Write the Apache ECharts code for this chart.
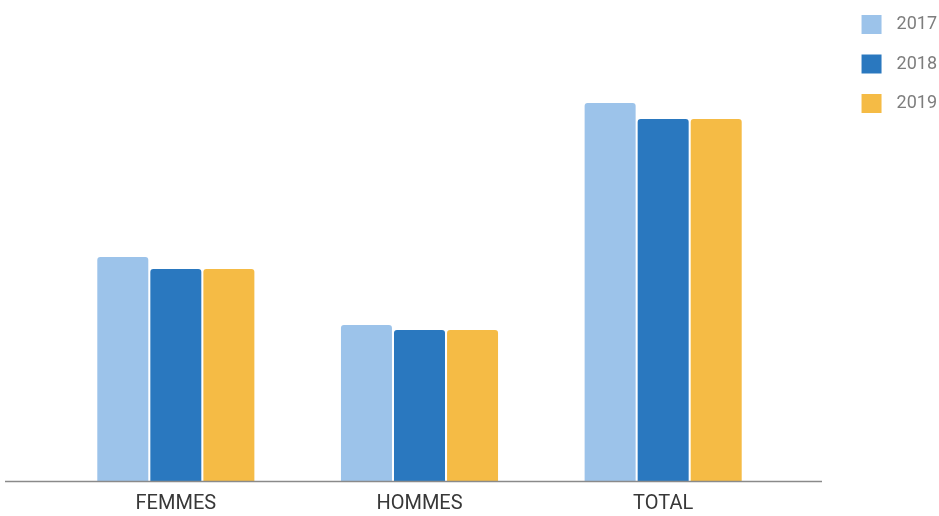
<!DOCTYPE html>
<html>
<head>
<meta charset="utf-8">
<script src="https://cdn.jsdelivr.net/npm/echarts@6/dist/echarts.min.js"></script>
<style>
  html, body { margin: 0; padding: 0; background: #ffffff; }
  #chart { width: 939px; height: 516px; }
</style>
</head>
<body>
<div id="chart"></div>
<script>
// Groups along the x axis
const categories = ['FEMMES', 'HOMMES', 'TOTAL'];
// Years shown in the legend
const years = ['2017', '2018', '2019'];
// Values per year, in category order
const values2017 = [224, 156, 378];
const values2018 = [212, 151, 362];
const values2019 = [212, 151, 362];

const seriesValues = [values2017, values2018, values2019];
const colors = ['#9cc3ea', '#2a78bf', '#f5bb45'];

const chart = echarts.init(document.getElementById('chart'), null, { renderer: 'canvas' });

const option = {
  backgroundColor: '#ffffff',
  animation: false,
  legend: {
    orient: 'vertical',
    right: 2,
    top: 15,
    padding: 0,
    itemWidth: 20,
    itemHeight: 19,
    itemGap: 20.5,
    icon: 'rect',
    textStyle: { fontFamily: 'Roboto', fontSize: 18, color: '#7d7d7d', padding: [0, 0, 0, 10] },
    data: years
  },
  grid: { left: 54, width: 731, top: 81, bottom: 35 },
  xAxis: {
    type: 'category',
    data: categories,
    axisLine: { show: false },
    axisTick: { show: false },
    axisLabel: { fontFamily: 'Roboto', fontSize: 20, color: '#383838', margin: 13 }
  },
  yAxis: {
    type: 'value',
    min: 0,
    max: 400,
    show: false,
    splitLine: { show: false }
  },
  series: years.map((y, i) => ({
    name: y,
    type: 'bar',
    data: seriesValues[i],
    barWidth: 51,
    barGap: '4%',
    itemStyle: { color: colors[i], borderRadius: [3, 3, 0, 0] }
  }))
};

chart.setOption(option);

// Baseline drawn wider than the plotting area
const base = chart.convertToPixel({ gridIndex: 0 }, [0, 0]);
chart.setOption({
  graphic: [{
    type: 'line',
    shape: { x1: 5, y1: base[1] + 0.5, x2: 822, y2: base[1] + 0.5 },
    style: { stroke: '#8a8a8a', lineWidth: 1.5 },
    z: 10
  }]
});
</script>
</body>
</html>
